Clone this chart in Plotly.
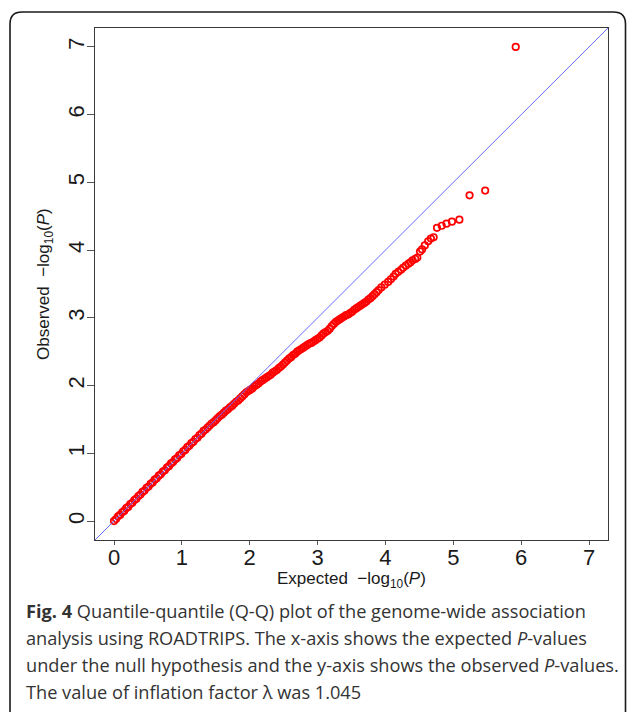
import plotly.graph_objects as go

# ---------------- data ----------------
expected = [
    0.00, 0.03, 0.06, 0.09, 0.12, 0.15, 0.18, 0.21, 0.24, 0.27, 0.30, 0.33, 0.36, 0.39,
    0.42, 0.45, 0.48, 0.51, 0.54, 0.57, 0.60, 0.63, 0.66, 0.69, 0.72, 0.75, 0.78, 0.81,
    0.84, 0.87, 0.90, 0.93, 0.96, 0.99, 1.02, 1.05, 1.08, 1.11, 1.14, 1.17, 1.20, 1.23,
    1.26, 1.29, 1.32, 1.35, 1.38, 1.41, 1.44, 1.47, 1.50, 1.53, 1.56, 1.59, 1.62, 1.65,
    1.68, 1.71, 1.74, 1.77, 1.80, 1.83, 1.86, 1.89, 1.92, 1.95, 1.98, 2.01, 2.04, 2.07,
    2.10, 2.13, 2.16, 2.19, 2.22, 2.25, 2.28, 2.31, 2.34, 2.37, 2.40, 2.43, 2.46, 2.49,
    2.52, 2.55, 2.58, 2.61, 2.64, 2.67, 2.70, 2.73, 2.76, 2.79, 2.82, 2.85, 2.88, 2.91,
    2.94, 2.97, 3.00, 3.03, 3.06, 3.09, 3.12, 3.15, 3.18, 3.21, 3.24, 3.27, 3.30, 3.33,
    3.36, 3.39, 3.42, 3.45, 3.48, 3.51, 3.54, 3.57, 3.60, 3.63, 3.66, 3.69, 3.72, 3.75,
    3.78, 3.81, 3.84, 3.87, 3.90, 3.94, 3.99, 4.04, 4.08, 4.12, 4.15, 4.19, 4.23, 4.26,
    4.30, 4.34, 4.37, 4.40, 4.44, 4.47, 4.51, 4.54, 4.58, 4.63, 4.67, 4.71, 4.76, 4.83,
    4.90, 4.98, 5.09, 5.24, 5.47, 5.92,
]
observed = [
    0.00, 0.03, 0.07, 0.09, 0.13, 0.15, 0.19, 0.21, 0.25, 0.27, 0.31, 0.33, 0.37, 0.39,
    0.43, 0.45, 0.49, 0.51, 0.55, 0.57, 0.61, 0.63, 0.67, 0.69, 0.73, 0.75, 0.79, 0.81,
    0.85, 0.87, 0.91, 0.93, 0.97, 0.99, 1.03, 1.05, 1.09, 1.11, 1.15, 1.17, 1.21, 1.23,
    1.27, 1.29, 1.33, 1.35, 1.38, 1.41, 1.44, 1.46, 1.49, 1.52, 1.55, 1.57, 1.60, 1.63,
    1.65, 1.68, 1.70, 1.73, 1.76, 1.78, 1.81, 1.84, 1.87, 1.90, 1.92, 1.94, 1.96, 1.99,
    2.01, 2.03, 2.06, 2.08, 2.10, 2.12, 2.14, 2.16, 2.19, 2.21, 2.23, 2.26, 2.28, 2.31,
    2.34, 2.37, 2.40, 2.42, 2.45, 2.47, 2.50, 2.52, 2.54, 2.56, 2.58, 2.60, 2.62, 2.63,
    2.65, 2.67, 2.69, 2.71, 2.74, 2.77, 2.79, 2.81, 2.84, 2.88, 2.91, 2.94, 2.96, 2.98,
    3.00, 3.02, 3.04, 3.05, 3.07, 3.09, 3.12, 3.14, 3.16, 3.18, 3.20, 3.22, 3.24, 3.27,
    3.29, 3.32, 3.35, 3.38, 3.41, 3.45, 3.49, 3.53, 3.57, 3.61, 3.65, 3.68, 3.71, 3.74,
    3.77, 3.80, 3.82, 3.85, 3.87, 3.89, 3.98, 4.01, 4.07, 4.13, 4.17, 4.19, 4.33, 4.36,
    4.39, 4.42, 4.45, 4.81, 4.88, 7.00,
]
tick_values = [0, 1, 2, 3, 4, 5, 6, 7]
axis_range = [-0.28, 7.28]

x_title = "Expected  \u2212log<sub>10</sub>(<i>P</i>)"
y_title = "Observed  \u2212log<sub>10</sub>(<i>P</i>)"
caption_lines = [
    "<b>Fig. 4</b> Quantile-quantile (Q-Q) plot of the genome-wide association",
    "analysis using ROADTRIPS. The x-axis shows the expected <i>P</i>-values",
    "under the null hypothesis and the y-axis shows the observed <i>P</i>-values.",
    "The value of inflation factor \u03bb was 1.045",
]

# ---------------- layout geometry (pixels) ----------------
W, H = 627, 712
PL, PR, PT, PB = 95, 608, 28, 540  # plot box


def px(x):
    return (x - PL) / (PR - PL)


def py(y):
    return (PB - y) / (PB - PT)


fig = go.Figure()
fig.add_trace(go.Scatter(
    x=expected, y=observed, mode="markers",
    marker=dict(symbol="circle-open", size=6.5, color="rgb(255,0,0)",
                line=dict(width=1.7, color="rgb(255,0,0)")),
    hoverinfo="skip", showlegend=False,
))
# reference line y = x drawn over the points (on the overlay axis that carries the long ticks)
fig.add_trace(go.Scatter(
    x=axis_range, y=axis_range, mode="lines", yaxis="y2",
    line=dict(color="rgb(105,105,255)", width=1),
    hoverinfo="skip", showlegend=False,
))

tick_font = dict(family="Liberation Sans, Arial, sans-serif", size=22, color="#1a1a1a")

fig.update_layout(
    width=W, height=H,
    margin=dict(l=PL, r=W - PR, t=PT, b=H - PB, pad=0),
    paper_bgcolor="white", plot_bgcolor="white",
    xaxis=dict(range=axis_range, tickvals=tick_values, showgrid=False, zeroline=False,
               showline=True, mirror=True, linecolor="#3a3a3a", linewidth=1,
               ticks="outside", ticklen=4, tickcolor="#555555", tickwidth=1,
               tickfont=tick_font, ticklabelstandoff=-6),
    # labels axis: short invisible ticks so rotated labels sit close to the box
    yaxis=dict(range=axis_range, tickvals=tick_values, showgrid=False, zeroline=False,
               showline=True, mirror=True, linecolor="#3a3a3a", linewidth=1,
               ticks="outside", ticklen=1, tickcolor="rgba(0,0,0,0)",
               tickfont=tick_font, tickangle=-90),
    # overlay axis: visible tick marks only
    yaxis2=dict(range=axis_range, tickvals=tick_values, overlaying="y", side="left",
                showgrid=False, zeroline=False, showline=False,
                ticks="outside", ticklen=7, tickcolor="#555555", tickwidth=1,
                showticklabels=False),
)

title_font = dict(family="Liberation Sans, Arial, sans-serif", size=17, color="#1a1a1a")
fig.add_annotation(text=x_title, x=0.5, y=py(580), xref="paper", yref="paper",
                   showarrow=False, xanchor="center", yanchor="middle", font=title_font)
fig.add_annotation(text=y_title, x=px(45), y=0.5, xref="paper", yref="paper",
                   showarrow=False, xanchor="center", yanchor="middle",
                   textangle=-90, font=title_font)

cap_font = dict(family="'Open Sans', Lato, sans-serif", size=18.2, color="#333333")
cap_centers = [611, 638, 665, 692]
for line, cy in zip(caption_lines, cap_centers):
    fig.add_annotation(text=line, x=px(24), y=py(cy), xref="paper", yref="paper",
                       showarrow=False, xanchor="left", yanchor="middle",
                       font=cap_font, align="left")

# rounded outer frame (open at bottom)
L, T, R, B, r = 10, 12, 625.5, 730, 12
path = (f"M {px(L)},{py(B)} L {px(L)},{py(T + r)} "
        f"Q {px(L)},{py(T)} {px(L + r)},{py(T)} "
        f"L {px(R - r)},{py(T)} "
        f"Q {px(R)},{py(T)} {px(R)},{py(T + r)} "
        f"L {px(R)},{py(B)}")
fig.add_shape(type="path", path=path, xref="paper", yref="paper",
              line=dict(color="#1a1a1a", width=1.6), layer="above")

fig.write_html("out.html")
